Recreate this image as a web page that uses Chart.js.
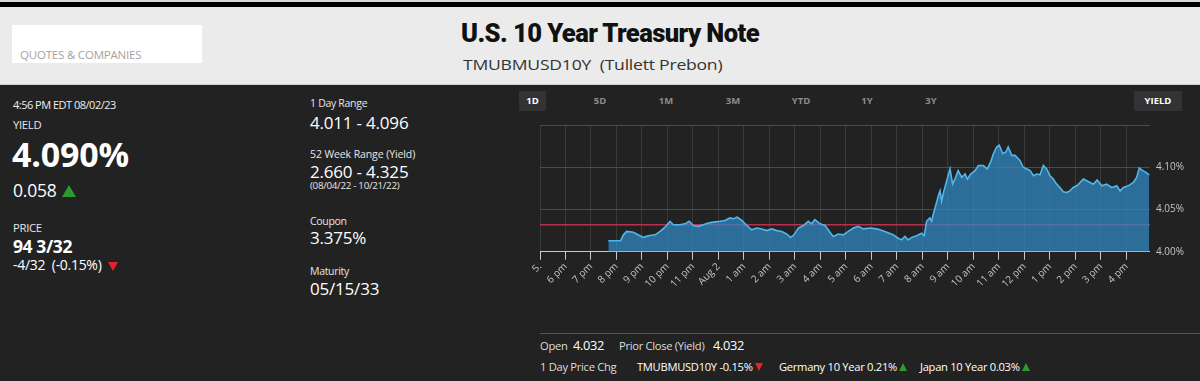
<!DOCTYPE html>
<html>
<head>
<meta charset="utf-8">
<script src="https://cdn.jsdelivr.net/npm/chart.js@4.4.0/dist/chart.umd.min.js"></script>
<style>
  html, body { margin: 0; padding: 0; }
  body {
    width: 1200px; height: 381px; background: #222; position: relative; overflow: hidden;
    font-family: "Open Sans", "Noto Sans", sans-serif; color: #fff;
  }
  .abs { position: absolute; line-height: 1; white-space: nowrap; }
  .lbl { font-size: 10.5px; color: #e6e6e6; letter-spacing: -0.3px; }
  .cap { font-size: 11.3px; }
  .val { font-size: 17px; color: #fff; letter-spacing: -0.2px; }
  .foot { font-size: 11.2px; color: #ddd; letter-spacing: -0.3px; }
  .tab { width: 40px; text-align: center; font-size: 9.5px; font-weight: 700; color: #8c8c8c; }
  .up { display: inline-block; width: 0; height: 0; border-left: 4px solid transparent; border-right: 4px solid transparent; border-bottom: 8px solid #2e9b2e; margin-left: 2px; }
  .dn { display: inline-block; width: 0; height: 0; border-left: 4px solid transparent; border-right: 4px solid transparent; border-top: 8px solid #e3222a; margin-left: 2px; }
</style>
</head>
<body>
<div class="abs" style="left:0;top:0;width:1200px;height:2px;background:#d8d8d8"></div>
<div class="abs" style="left:0;top:2px;width:1200px;height:5px;background:#000"></div>
<div class="abs" style="left:0;top:7px;width:1200px;height:77px;background:#ebebeb"></div>
<div class="abs" style="left:0;top:84px;width:1200px;height:1px;background:#cfcfcf"></div>

<div class="abs" style="left:12px;top:25px;width:190px;height:38px;background:#fff"></div>
<div class="abs" style="left:20px;top:48.8px;font-size:11.5px;color:#a3a3a3;letter-spacing:-0.2px">QUOTES &amp; COMPANIES</div>

<div id="title" class="abs" style="left:461px;top:20px;font-family:Roboto,sans-serif;font-weight:900;font-size:26px;color:#111;letter-spacing:-0.6px;transform-origin:0 0">U.S. 10 Year Treasury Note</div>
<div id="subtitle" class="abs" style="left:463px;top:57px;font-size:15px;color:#333;letter-spacing:-0.2px;transform-origin:0 0">TMUBMUSD10Y&nbsp; (Tullett Prebon)</div>

<!-- left column -->
<div class="abs" style="left:13px;top:99.2px;font-size:11px;color:#eee;letter-spacing:-0.5px">4:56 PM EDT 08/02/23</div>
<div class="abs lbl cap" style="left:13px;top:119px">YIELD</div>
<div class="abs" style="left:12px;top:136.5px;font-size:34px;font-weight:700;letter-spacing:-0.2px">4.090%</div>
<div class="abs" style="left:13px;top:182.2px;font-size:17.5px;letter-spacing:-0.2px">0.058</div>
<div class="abs" style="left:62px;top:185px;width:0;height:0;border-left:7.5px solid transparent;border-right:7.5px solid transparent;border-bottom:12.5px solid #2c9a2c"></div>
<div class="abs lbl cap" style="left:13px;top:221.5px">PRICE</div>
<div class="abs" style="left:13px;top:238.2px;font-size:17.5px;font-weight:700;letter-spacing:-0.4px">94 3/32</div>
<div class="abs" style="left:13px;top:257.6px;font-size:14px;letter-spacing:-0.3px">-4/32&nbsp; (-0.15%)</div>
<div class="abs" style="left:108px;top:262px;width:0;height:0;border-left:5.5px solid transparent;border-right:5.5px solid transparent;border-top:9px solid #e3222a"></div>

<!-- middle column -->
<div class="abs lbl" style="left:310px;top:98px">1 Day Range</div>
<div class="abs val" style="left:310px;top:113.9px">4.011 - 4.096</div>
<div class="abs lbl" style="left:310px;top:149px;letter-spacing:-0.1px">52 Week Range (Yield)</div>
<div class="abs val" style="left:310px;top:162.6px">2.660 - 4.325</div>
<div class="abs" style="left:310px;top:180.5px;font-size:9.8px;color:#e6e6e6;letter-spacing:-0.3px">(08/04/22 - 10/21/22)</div>
<div class="abs lbl" style="left:310px;top:215.7px">Coupon</div>
<div class="abs val" style="left:310px;top:229.2px">3.375%</div>
<div class="abs lbl" style="left:310px;top:265.7px">Maturity</div>
<div class="abs val" style="left:310px;top:279.5px">05/15/33</div>

<!-- range tabs -->
<div class="abs" style="left:519px;top:91px;width:27px;height:20px;background:#333"></div>
<div class="abs" style="left:1134px;top:91px;width:48px;height:20px;background:#333"></div>
<div class="abs tab" style="left:512.5px;top:96px;color:#fff">1D</div>
<div class="abs tab" style="left:580px;top:96px">5D</div>
<div class="abs tab" style="left:646px;top:96px">1M</div>
<div class="abs tab" style="left:713px;top:96px">3M</div>
<div class="abs tab" style="left:781px;top:96px">YTD</div>
<div class="abs tab" style="left:847px;top:96px">1Y</div>
<div class="abs tab" style="left:911px;top:96px">3Y</div>
<div class="abs tab" style="left:1138px;top:96px;color:#fff">YIELD</div>

<div class="abs" style="left:510px;top:113px">
  <canvas id="yieldChart" width="690" height="178"></canvas>
</div>

<!-- footer -->
<div class="abs" style="left:540px;top:333px;width:660px;height:1px;background:#555"></div>
<div class="abs foot" style="left:540px;top:340px">Open</div>
<div class="abs" style="left:573px;top:338.5px;font-size:12.8px;letter-spacing:-0.3px">4.032</div>
<div class="abs foot" style="left:619px;top:340px">Prior Close (Yield)</div>
<div class="abs" style="left:713px;top:338.5px;font-size:12.8px;letter-spacing:-0.3px">4.032</div>
<div class="abs foot" style="left:540px;top:361px">1 Day Price Chg</div>
<div class="abs foot" style="left:637px;top:361px;color:#fff">TMUBMUSD10Y -0.15%<span class="dn"></span></div>
<div class="abs foot" style="left:779px;top:361px;color:#fff">Germany 10 Year 0.21%<span class="up"></span></div>
<div class="abs foot" style="left:920px;top:361px;color:#fff">Japan 10 Year 0.03%<span class="up"></span></div>

<script>
// hours after 5 pm ET on Aug 1
const hours = [2.68,3.16,3.27,3.40,3.66,3.85,4.05,4.25,4.51,4.71,4.90,5.10,5.23,5.49,5.69,5.85,6.01,6.21,6.40,6.60,
  6.80,7.06,7.25,7.45,7.58,7.74,7.91,8.11,8.30,8.50,8.69,8.89,9.09,9.28,9.48,9.67,9.83,9.96,10.13,10.33,
  10.52,10.65,10.78,10.98,11.18,11.37,11.50,11.70,11.89,12.09,12.29,12.48,12.68,12.94,13.20,
  13.33,13.60,13.85,14.05,14.18,14.31,14.44,14.58,14.77,14.97,15.07,15.16,15.29,15.36,15.42,15.53,15.62,15.69,15.75,15.84,
  15.95,16.08,16.18,16.27,16.40,16.54,16.67,16.76,16.89,17.06,17.19,17.38,17.54,17.67,17.78,17.91,18.01,18.15,18.27,18.36,
  18.50,18.63,18.82,18.95,19.09,19.22,19.35,19.48,19.61,19.74,19.87,20.00,20.13,20.26,20.39,20.52,20.65,20.78,20.91,21.05,
  21.18,21.31,21.44,21.57,21.70,21.85,22.03,22.22,22.42,22.62,22.75,22.88,23.07,23.27,23.40,23.50,23.64,23.76,23.89];
const yields = [4.013,4.013,4.020,4.024,4.023,4.020,4.017,4.019,4.020,4.024,4.029,4.036,4.032,4.032,4.033,4.036,4.031,4.030,4.032,4.034,
  4.035,4.036,4.037,4.040,4.039,4.041,4.037,4.031,4.026,4.028,4.027,4.025,4.027,4.025,4.024,4.021,4.017,4.020,4.028,4.031,
  4.036,4.033,4.038,4.033,4.031,4.023,4.018,4.021,4.020,4.024,4.028,4.030,4.027,4.028,4.027,
  4.026,4.023,4.020,4.016,4.014,4.018,4.014,4.017,4.019,4.022,4.019,4.036,4.040,4.036,4.044,4.056,4.066,4.072,4.060,4.072,
  4.084,4.098,4.080,4.086,4.096,4.088,4.092,4.086,4.092,4.096,4.102,4.102,4.098,4.106,4.116,4.124,4.126,4.116,4.118,4.124,
  4.114,4.114,4.108,4.100,4.098,4.096,4.090,4.092,4.091,4.102,4.098,4.090,4.086,4.080,4.076,4.071,4.070,4.072,4.076,4.078,
  4.082,4.086,4.084,4.082,4.080,4.085,4.078,4.080,4.076,4.078,4.072,4.076,4.078,4.082,4.088,4.099,4.096,4.094,4.091];
const priorClose = 4.032;
const hourLabels = ['5.','6 pm','7 pm','8 pm','9 pm','10 pm','11 pm','Aug 2','1 am','2 am','3 am','4 am',
  '5 am','6 am','7 am','8 am','9 am','10 am','11 am','12 pm','1 pm','2 pm','3 pm','4 pm'];
const yMin = 4.00, yMax = 4.15, yStep = 0.05;
const xMax = 23.92;

// squeeze the header texts into their boxes
function fitWidth(id, w) {
  const el = document.getElementById(id);
  el.style.transform = 'scaleX(' + (w / el.offsetWidth) + ')';
}
fitWidth('title', 298);
fitWidth('subtitle', 259);

const yieldPoints = hours.map((h, i) => ({ x: h, y: yields[i] }));

new Chart(document.getElementById('yieldChart'), {
  type: 'line',
  data: {
    datasets: [
      {
        label: 'Yield',
        data: yieldPoints,
        borderColor: '#52b6ec',
        borderWidth: 1.6,
        backgroundColor: 'rgba(48,136,196,0.74)',
        fill: 'start',
        pointRadius: 0,
        tension: 0,
        order: 1,
      },
      {
        label: 'Prior close',
        data: [{ x: 0, y: priorClose }, { x: xMax, y: priorClose }],
        borderColor: '#b8304f',
        borderWidth: 1.5,
        pointRadius: 0,
        fill: false,
        order: 2,
      },
    ],
  },
  options: {
    responsive: false,
    animation: false,
    layout: { padding: { left: 30, top: 8, right: 10, bottom: 0 } },
    scales: {
      x: {
        type: 'linear',
        min: 0,
        max: xMax,
        grid: { color: '#3a3a3a', tickColor: '#c8c8c8', tickLength: 8 },
        border: { color: '#c8c8c8' },
        ticks: {
          stepSize: 1,
          includeBounds: false,
          autoSkip: false,
          maxRotation: 45,
          minRotation: 45,
          padding: 1,
          color: '#c4c4c4',
          font: { family: 'Open Sans', size: 10 },
          callback: (v) => hourLabels[v] ?? '',
        },
      },
      y: {
        position: 'right',
        min: yMin,
        max: yMax,
        grid: { color: '#4c4c4c', drawTicks: false },
        border: { display: false },
        ticks: {
          stepSize: yStep,
          padding: 6,
          color: '#c4c4c4',
          font: { family: 'Open Sans', size: 10 },
          callback: (v) => (v > yMax - 0.01 ? '' : v.toFixed(2) + '%'),
        },
      },
    },
    plugins: {
      legend: { display: false },
      tooltip: { enabled: false },
    },
  },
});
</script>
</body>
</html>
